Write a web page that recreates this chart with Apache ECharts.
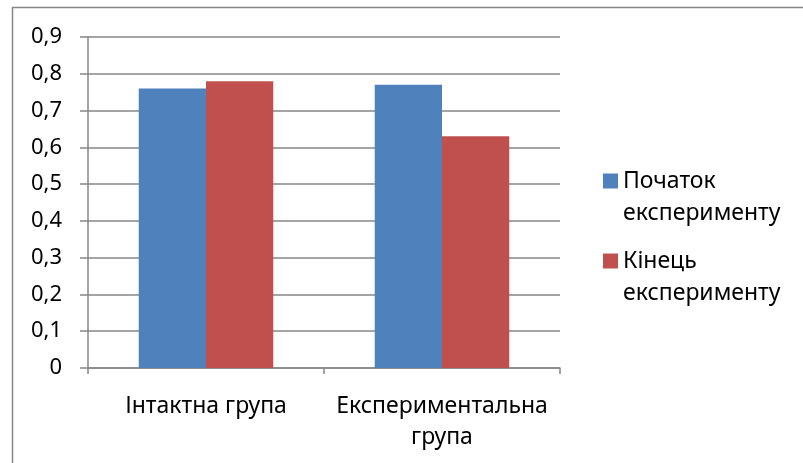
<!DOCTYPE html>
<html>
<head>
<meta charset="utf-8">
<script src="https://cdn.jsdelivr.net/npm/echarts@6/dist/echarts.min.js"></script>
<style>
  html, body { margin: 0; padding: 0; background: #fff; }
  #chart { width: 803px; height: 463px; }
</style>
</head>
<body>
<div id="chart"></div>
<script>
// values
const categories = ['Інтактна група', 'Експериментальна група']
const seriesNames = ['Початок\nексперименту', 'Кінець\nексперименту']
const startValues = [0.76, 0.77]
const endValues = [0.78, 0.63]
const colors = ['#4F81BD', '#C0504D']

const font = 'Noto Sans'
const chart = echarts.init(document.getElementById('chart'))

// empty first line keeps the icon level with the first line of the name
const legendBase = {
  orient: 'vertical',
  left: 603,
  padding: 0,
  itemWidth: 15,
  itemHeight: 15,
  itemGap: 0,
  icon: 'rect',
  formatter: (name) => '\u00a0\n' + name,
  textStyle: {
    fontFamily: font,
    fontSize: 23,
    color: '#000',
    lineHeight: 32,
  },
}

chart.setOption({
  backgroundColor: '#fff',
  animation: false,
  color: colors,
  grid: { left: 88, right: 243, top: 37, bottom: 95, containLabel: false },
  graphic: [
    {
      type: 'rect',
      shape: { x: 12.5, y: 7.5, width: 820, height: 500 },
      style: { fill: 'none', stroke: '#868686', lineWidth: 1.5 },
      silent: true,
      z: -1,
    },
  ],
  legend: [
    { ...legendBase, top: 133, data: [seriesNames[0]] },
    { ...legendBase, top: 213, data: [seriesNames[1]] },
  ],
  xAxis: {
    type: 'category',
    data: categories,
    axisLine: { lineStyle: { color: '#868686', width: 1.5 } },
    axisTick: { show: true, length: 6, lineStyle: { color: '#868686', width: 1.5 } },
    axisLabel: {
      fontFamily: font,
      fontSize: 23,
      color: '#000',
      margin: 23,
      lineHeight: 31,
      interval: 0,
      formatter: (v) => (v.length > 16 ? v.replace(' ', '\n') : v),
    },
  },
  yAxis: {
    type: 'value',
    min: 0,
    max: 0.9,
    interval: 0.1,
    axisLine: { show: true, lineStyle: { color: '#868686', width: 1.5 } },
    axisTick: { show: true, length: 8, lineStyle: { color: '#868686', width: 1.5 } },
    splitLine: { lineStyle: { color: '#868686', width: 1.5 } },
    axisLabel: {
      fontFamily: font,
      fontSize: 22,
      color: '#000',
      margin: 26,
      formatter: (v) => (Math.round(v * 10) / 10).toString().replace('.', ','),
    },
  },
  series: [
    {
      name: seriesNames[0],
      type: 'bar',
      data: startValues,
      barGap: '0%',
      barCategoryGap: '43%',
      itemStyle: { color: colors[0] },
    },
    {
      name: seriesNames[1],
      type: 'bar',
      data: endValues,
      itemStyle: { color: colors[1] },
    },
  ],
})
</script>
</body>
</html>
